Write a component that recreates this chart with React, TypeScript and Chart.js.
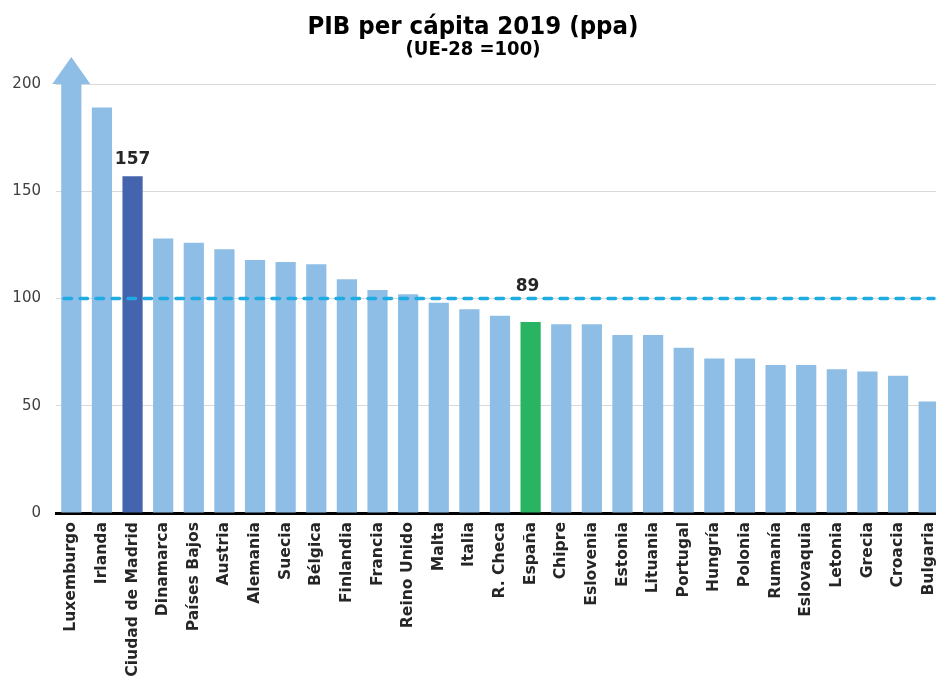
import React, { useEffect, useRef } from "react";
import { Chart, registerables } from "chart.js";

Chart.register(...registerables);

const titleText = "PIB per cápita 2019 (ppa)";
const subtitleText = "(UE-28 =100)";

const categories = [
  "Luxemburgo", "Irlanda", "Ciudad de Madrid", "Dinamarca", "Países Bajos", "Austria",
  "Alemania", "Suecia", "Bélgica", "Finlandia", "Francia", "Reino Unido", "Malta",
  "Italia", "R. Checa", "España", "Chipre", "Eslovenia", "Estonia", "Lituania",
  "Portugal", "Hungría", "Polonia", "Rumanía", "Eslovaquia", "Letonia", "Grecia",
  "Croacia", "Bulgaria",
];

const values = [
  261, 189, 157, 128, 126, 123, 118, 117, 116, 109, 104, 102, 98, 95, 92, 89, 88, 88,
  83, 83, 77, 72, 72, 69, 69, 67, 66, 64, 52,
];

const yTicks = [0, 50, 100, 150, 200];
const euAverage = 100;
const madridLabel = "Ciudad de Madrid";
const spainLabel = "España";
const overflowLabel = "Luxemburgo";

const FONT = "'DejaVu Sans', Verdana, sans-serif";
const LIGHT = "#8EBEE6";
const MADRID = "#4464AE";
const SPAIN = "#28B463";
const DASH = "#1FABE3";

export default function App() {
  const ref = useRef<HTMLCanvasElement | null>(null);

  useEffect(() => {
    if (!ref.current) return;
    const madridIdx = categories.indexOf(madridLabel);
    const spainIdx = categories.indexOf(spainLabel);
    const luxIdx = categories.indexOf(overflowLabel);

    const colors = categories.map((c) =>
      c === madridLabel ? MADRID : c === spainLabel ? SPAIN : LIGHT
    );

    const overlay = {
      id: "overlay",
      afterDatasetsDraw(chart: any) {
        const ctx = chart.ctx;
        const area = chart.chartArea;
        const y = chart.scales.y;
        const meta = chart.getDatasetMeta(0);

        const lux = meta.data[luxIdx];
        ctx.save();
        ctx.fillStyle = LIGHT;
        ctx.beginPath();
        ctx.moveTo(lux.x - 19, area.top);
        ctx.lineTo(lux.x + 19, area.top);
        ctx.lineTo(lux.x, area.top - 27);
        ctx.closePath();
        ctx.fill();
        ctx.restore();

        const yAvg = y.getPixelForValue(euAverage);
        ctx.save();
        ctx.strokeStyle = DASH;
        ctx.lineWidth = 3.5;
        ctx.lineCap = "round";
        ctx.setLineDash([7.5, 8.5]);
        ctx.beginPath();
        ctx.moveTo(area.left + 8, yAvg);
        ctx.lineTo(934, yAvg);
        ctx.stroke();
        ctx.restore();

        ctx.save();
        ctx.fillStyle = "#262626";
        ctx.font = `bold 17px ${FONT}`;
        ctx.textAlign = "center";
        ctx.textBaseline = "alphabetic";
        const mb = meta.data[madridIdx];
        ctx.fillText(String(values[madridIdx]), mb.x, mb.y - 12);
        const sb = meta.data[spainIdx];
        ctx.fillText(String(values[spainIdx]), sb.x - 3, yAvg - 8);
        ctx.restore();
      },
      afterDraw(chart: any) {
        const ctx = chart.ctx;
        ctx.save();
        ctx.fillStyle = "#000";
        ctx.textAlign = "center";
        ctx.textBaseline = "middle";
        ctx.font = `bold 25.5px 'DejaVu Sans Condensed', ${FONT}`;
        ctx.fillText(titleText, 473, 27);
        ctx.font = `bold 20px 'DejaVu Sans Condensed', ${FONT}`;
        ctx.fillText(subtitleText, 473, 50);
        ctx.restore();
      },
    };

    const chart = new Chart(ref.current, {
      type: "bar",
      data: {
        labels: categories,
        datasets: [
          {
            data: values,
            backgroundColor: colors,
            borderWidth: 0,
            categoryPercentage: 1,
            barPercentage: 0.66,
          },
        ],
      },
      options: {
        responsive: false,
        animation: false,
        devicePixelRatio: 1,
        layout: { padding: { top: 84, left: 0, right: 0, bottom: 0 } },
        plugins: {
          legend: { display: false },
          tooltip: { enabled: false },
          title: { display: false },
        },
        scales: {
          x: {
            grid: { display: false, drawTicks: false },
            border: { display: true, color: "#000", width: 3 },
            ticks: {
              autoSkip: false,
              maxRotation: 90,
              minRotation: 90,
              padding: 9,
              color: "#262626",
              font: { family: FONT, size: 15.6, weight: "bold" },
            },
            afterFit(scale: any) {
              scale.height = 163;
              scale.paddingLeft = 0;
              scale.paddingRight = 0;
            },
          },
          y: {
            min: 0,
            max: 200,
            afterBuildTicks(scale: any) {
              scale.ticks = yTicks.map((v) => ({ value: v }));
            },
            grid: { color: "#d9d9d9", lineWidth: 1, drawTicks: false },
            border: { display: false },
            ticks: {
              padding: 15,
              color: "#404040",
              font: { family: FONT, size: 15 },
            },
            afterFit(scale: any) {
              scale.width = 56;
            },
          },
        },
      },
      plugins: [overlay],
    });
    return () => chart.destroy();
  }, []);

  return (
    <div
      style={{
        position: "fixed",
        left: 0,
        top: 0,
        width: 936,
        height: 676,
        overflow: "hidden",
        background: "#fff",
      }}
    >
      <canvas ref={ref} width={944} height={676} style={{ display: "block" }} />
    </div>
  );
}
